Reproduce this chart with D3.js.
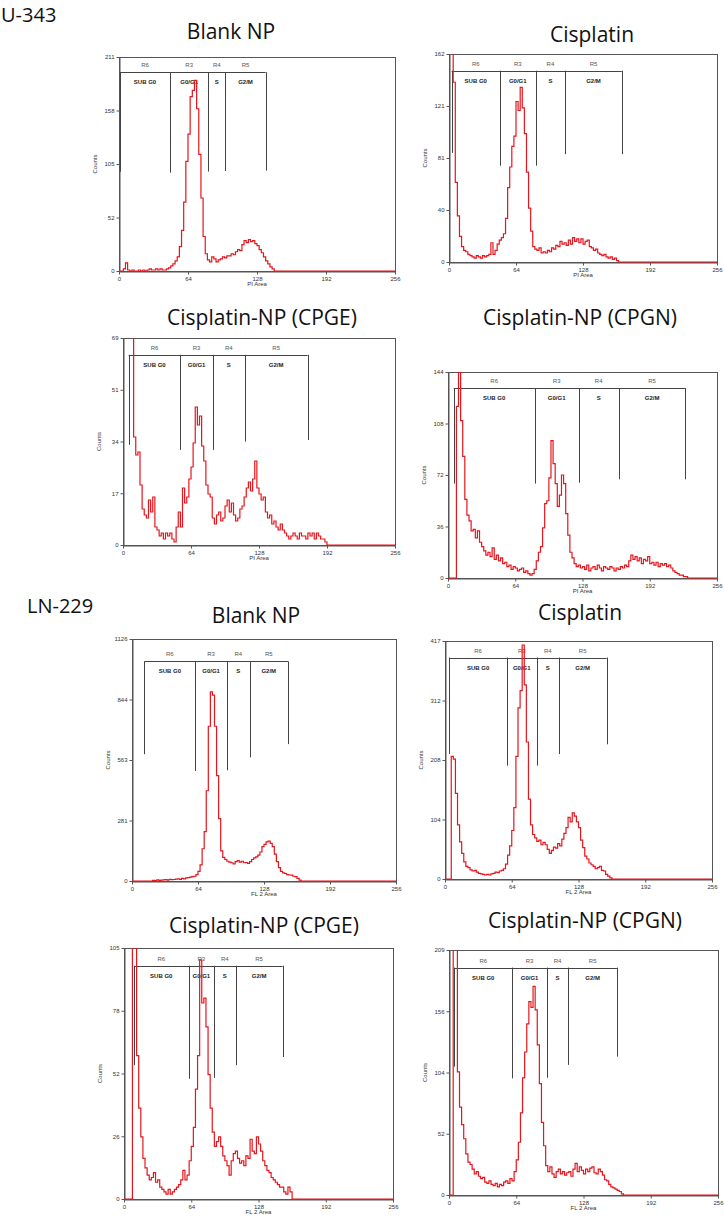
<!DOCTYPE html>
<html><head><meta charset="utf-8">
<script src="https://cdn.jsdelivr.net/npm/d3@7"></script>
<style>body{margin:0;background:#fff;} svg{display:block;}</style>
</head><body>
<svg id="c" width="724" height="1220"></svg>
<script>
// ---------- DATA (counts per 2-channel bin, starting at channel 0) ----------
const binWidth = 2;
const u343Blank = [0,0,2,8,1,0,1,0,0,1, 0,1,0,1,2,1,1,2,1,2, 1,1,2,3,5,7,10,14,24,40, 68,108,135,172,178,188,160,115,72,34, 17,11,9,14,12,9,11,12,14,13, 15,15,17,16,19,21,20,26,30,28, 31,29,30,27,25,21,18,14,10,7, 4,2,0];
const u343Cis = [175,175,140,62,36,20,12,9,8,6, 5,4,3,5,4,3,5,4,5,6, 15,6,9,14,17,19,22,34,58,74, 90,98,125,118,136,120,100,70,42,24, 12,10,9,11,7,8,7,9,8,11, 10,13,12,16,14,15,13,17,14,19, 16,18,15,18,14,16,17,12,11,9, 10,7,6,5,6,4,3,4,2,3, 1,0];
const u343Cpge = [80,80,80,80,74,36,30,31,20,12, 10,9,15,11,16,6,5,3,4,2, 4,3,4,2,1,6,11,6,19,14, 16,22,26,34,46,40,43,33,28,20, 17,16,9,7,10,11,8,9,13,15, 11,14,10,8,9,12,13,16,19,21, 18,22,28,19,17,15,16,11,9,10, 7,8,6,5,7,5,4,3,2,3, 4,3,2,4,3,3,2,4,3,4, 2,4,3,2,2,1,0];
const u343Cpgn = [0,0,0,0,120,170,110,85,55,44, 40,33,34,28,33,25,22,19,16,18, 15,21,13,16,12,14,10,11,8,9, 6,8,7,5,6,7,4,5,3,2, 3,6,12,18,22,35,52,54,70,96, 80,66,50,58,72,66,45,30,18,14, 10,8,9,7,8,6,9,5,7,8, 6,9,7,5,8,7,6,8,7,5, 7,6,8,7,9,8,12,16,13,15, 12,14,10,13,12,15,10,11,9,11, 8,10,9,10,8,9,7,5,4,3, 2,2,1,1,0];
const ln229Blank = [0,0,0,0,0,0,0,0,0,0, 3,2,5,3,4,5,6,4,8,6, 7,9,10,8,12,10,15,16,18,20, 22,30,45,75,150,230,420,720,880,865, 720,490,290,140,110,100,92,88,85,80, 90,95,88,92,85,86,82,90,100,108, 112,120,135,160,170,182,186,175,160,125, 90,62,45,38,35,30,28,27,22,20, 12,4,0];
const ln229Cis = [0,0,0,215,210,150,95,65,45,30, 22,20,16,14,15,12,10,9,8,7, 8,7,9,10,12,11,14,15,18,26, 42,58,85,125,215,300,330,410,340,240, 140,95,78,72,66,68,60,64,60,52, 45,50,56,54,62,58,70,80,90,108, 100,116,110,100,90,68,55,40,35,28, 25,22,18,20,22,15,14,8,5,2, 0];
const ln229Cpge = [0,0,0,0,120,120,60,38,26,17, 13,10,8,9,11,7,8,5,4,3, 2,4,2,3,4,5,6,8,12,8, 10,16,22,30,46,60,100,82,84,72, 52,38,28,22,24,26,22,18,16,14, 10,16,19,20,17,15,16,14,18,17, 25,20,19,26,23,20,16,14,12,11, 9,8,7,6,5,5,3,2,5,3, 0];
const ln229Cpgn = [0,0,230,230,105,75,60,48,35,28, 26,22,18,20,16,14,15,11,10,12, 9,8,10,7,9,8,11,12,10,14, 12,20,30,45,70,100,122,146,165,160, 178,158,128,95,62,42,25,20,24,18, 15,20,22,18,20,17,19,20,16,22, 27,20,24,21,18,22,20,23,24,19, 18,22,20,17,13,12,9,7,6,5, 4,3,1,0];

const cellLines = ["U-343", "LN-229"];
const titles = ["Blank NP", "Cisplatin", "Cisplatin-NP (CPGE)", "Cisplatin-NP (CPGN)", "Blank NP", "Cisplatin", "Cisplatin-NP (CPGE)", "Cisplatin-NP (CPGN)"];
const xAxisLabels = ["PI Area","PI Area","PI Area","PI Area","FL 2 Area","FL 2 Area","FL 2 Area","FL 2 Area"];
const xDomainMax = 256;
const xTickValues = [0, 64, 128, 192, 256];
const xTickLabels = ["0","64","128","192","256"];
const yMaxes = [211, 162, 69, 144, 1126, 417, 105, 209];
const yTickLabels = [
  ["0","52","105","158","211"], ["0","40","81","121","162"],
  ["0","17","34","51","69"], ["0","36","72","108","144"],
  ["0","281","563","844","1126"], ["0","104","208","312","417"],
  ["0","26","52","78","105"], ["0","52","104","156","209"]
];
const regionNames = ["R6","R3","R4","R5"];
const phaseNames = ["SUB G0","G0/G1","S","G2/M"];
// gates: horizontal bar level (counts), boundary channels, and how far each boundary marker drops (counts)
const gateLevels = [196, 149, 63.4, 132.8, 1022, 388, 97.6, 194];
const gateBounds = [
  [1, 47.3, 82.9, 98.6, 136], [2.5, 48.6, 82.7, 111, 165],
  [5.3, 54, 84.5, 114.6, 173.7], [5.4, 82.5, 124.4, 162.4, 226],
  [12, 61.4, 92, 114, 151.3], [4.2, 59.2, 88, 109, 155],
  [9.5, 61.4, 85.8, 106.2, 151], [4.8, 60.4, 93, 113.7, 159.8]
];
const gateDrops = [
  [98, 97, 98, 98.6, 99], [85, 75, 75, 84, 84],
  [33.4, 31.7, 31.7, 34.5, 35], [66, 66, 66.6, 69, 69],
  [590, 512, 515, 575, 637], [219, 198.6, 198.6, 219, 236],
  [56, 50.3, 50.6, 56, 59.4], [109.5, 99.5, 100, 111, 118]
];
const series = [u343Blank, u343Cis, u343Cpge, u343Cpgn, ln229Blank, ln229Cis, ln229Cpge, ln229Cpgn];

// ---------- LAYOUT ----------
const boxes = [
  [119, 57, 395, 271], [449, 54, 717, 262],
  [123, 338, 395, 545], [448, 372, 717, 578],
  [132, 639, 396, 881], [445, 641, 712, 879],
  [124, 948, 393, 1199], [449, 950, 718, 1195]
];
const titlePos = [[231,39],[592,42],[262,325],[580,325],[256,623],[580,620],[264,933],[585,928]];
const cellPos = [[1,22],[27,613]];

const RED = "#e5161d";
const AX = "#555";
const svg = d3.select("#c");
const defs = svg.append("defs");

cellLines.forEach((c,i)=>{
  svg.append("text").attr("x",cellPos[i][0]).attr("y",cellPos[i][1])
    .attr("font-family","Open Sans").attr("font-size",20).attr("fill","#111").text(c);
});

series.forEach((data, k) => {
  const [L,T,R,B] = boxes[k];
  const x = d3.scaleLinear().domain([0, xDomainMax]).range([L, R]);
  const yMax = yMaxes[k];
  const y = d3.scaleLinear().domain([0, yMax]).range([B, T]);
  const g = svg.append("g");

  g.append("text").attr("x", titlePos[k][0]).attr("y", titlePos[k][1]).attr("text-anchor","middle")
    .attr("font-family","Open Sans").attr("font-size",21).attr("fill","#111").text(titles[k]);

  // frame
  g.append("rect").attr("x",L+0.5).attr("y",T+0.5).attr("width",R-L).attr("height",B-T)
    .attr("fill","none").attr("stroke",AX).attr("stroke-width",1);

  // y axis
  const yTickVals = yTickLabels[k].map((_,i)=> yMax*i/4);
  const ya = g.append("g").attr("transform",`translate(${L+0.5},0)`)
    .call(d3.axisLeft(y).tickValues(yTickVals).tickFormat((d,i)=>yTickLabels[k][i]).tickSize(3).tickSizeOuter(0).tickPadding(2));
  ya.select(".domain").attr("stroke",AX);
  ya.selectAll(".tick line").attr("stroke",AX);
  ya.selectAll("text").attr("font-family","Liberation Sans").attr("font-size",6).attr("fill","#333");

  // x axis
  const xa = g.append("g").attr("transform",`translate(0,${B+0.5})`)
    .call(d3.axisBottom(x).tickValues(xTickValues).tickFormat((d,i)=>xTickLabels[i]).tickSize(3).tickSizeOuter(0).tickPadding(2));
  xa.select(".domain").attr("stroke",AX);
  xa.selectAll(".tick line").attr("stroke",AX);
  xa.selectAll("text").attr("font-family","Liberation Sans").attr("font-size",6).attr("fill","#333");

  g.append("text").attr("transform",`translate(${L-22},${(T+B)/2}) rotate(-90)`).attr("text-anchor","middle")
    .attr("font-family","Liberation Sans").attr("font-size",6).attr("fill","#333").text("Counts");
  g.append("text").attr("x",(L+R)/2).attr("y",B+15).attr("text-anchor","middle")
    .attr("font-family","Liberation Sans").attr("font-size",6).attr("fill","#333").text(xAxisLabels[k]);

  // gates
  const gb = gateBounds[k], gd = gateDrops[k], gl = gateLevels[k];
  const gg = g.append("g").attr("stroke","#444").attr("stroke-width",1).attr("fill","none");
  gg.append("line").attr("x1",x(gb[0])).attr("x2",x(gb[4])).attr("y1",Math.round(y(gl))+0.5).attr("y2",Math.round(y(gl))+0.5);
  gb.forEach((b,i)=>{
    gg.append("line").attr("x1",Math.round(x(b))+0.5).attr("x2",Math.round(x(b))+0.5)
      .attr("y1",y(gl)).attr("y2",y(gd[i]));
  });
  regionNames.forEach((r,i)=>{
    const cx = x((gb[i]+gb[i+1])/2);
    g.append("text").attr("x",cx).attr("y",y(gl)-5).attr("text-anchor","middle")
      .attr("font-family","Liberation Sans").attr("font-size",6).attr("fill","#555").text(r);
    g.append("text").attr("x",cx).attr("y",y(gl)+12).attr("text-anchor","middle")
      .attr("font-family","Liberation Sans").attr("font-size",6).attr("font-weight","bold").attr("fill","#222").text(phaseNames[i]);
  });

  // histogram
  const cid = "clip"+k;
  defs.append("clipPath").attr("id",cid).append("rect").attr("x",L).attr("y",T).attr("width",R-L+1).attr("height",B-T+2);
  const pts = [[0,0]].concat(data.map((v,i)=>[i*binWidth, v]));
  pts.push([data.length*binWidth, 0], [xDomainMax, 0]);
  const line = d3.line().x(d=>x(d[0])).y(d=>y(d[1])).curve(d3.curveStepAfter);
  g.append("path").attr("d", line(pts)).attr("clip-path",`url(#${cid})`)
    .attr("fill","none").attr("stroke",RED).attr("stroke-width",1.2).attr("stroke-linejoin","miter");
});
</script>
</body></html>
